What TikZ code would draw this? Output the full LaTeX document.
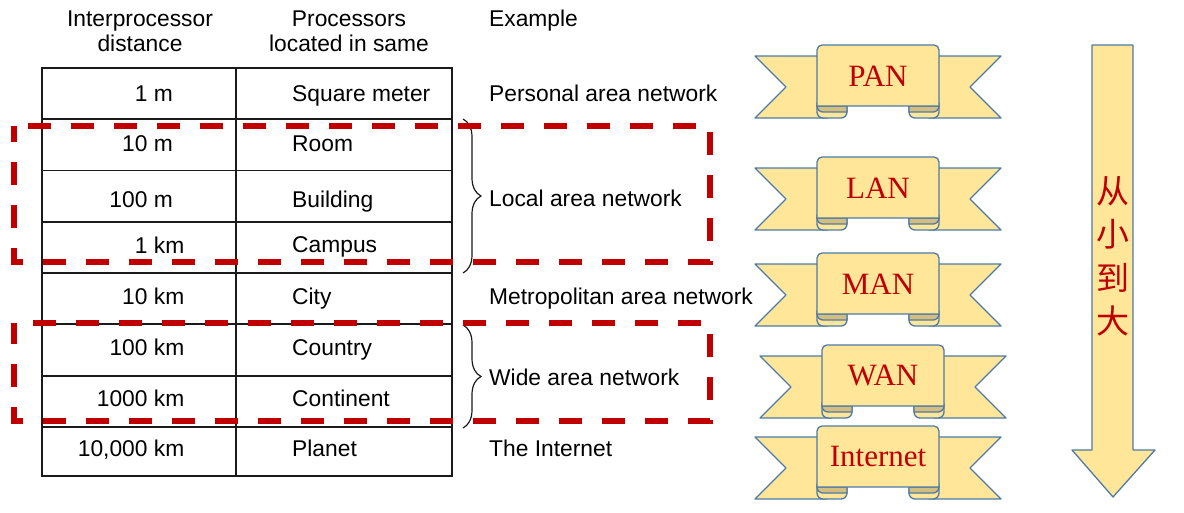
\documentclass[tikz,border=0pt]{standalone}
\usepackage{fontspec}
\setmainfont{Liberation Sans}
\newfontfamily\ribbonserif{Liberation Serif}
\newfontfamily\cjk{Noto Sans CJK SC}
\usetikzlibrary{decorations.pathreplacing}
\definecolor{darkred}{HTML}{C00000}
\definecolor{ribfill}{HTML}{FFE699}
\definecolor{ribfold}{HTML}{D3BE7E}
\definecolor{ribline}{HTML}{4F7AA6}
\definecolor{tabgray}{HTML}{1A1A1A}

\newcommand{\ribbonpic}[4]{%
  \begin{scope}[shift={(#2,#3)}]
    \draw[band] (-62,11) -- (10,11) -- (10,73) -- (-62,73) -- (-31,42) -- cycle;
    \draw[band] (184,11) -- (112,11) -- (112,73) -- (184,73) -- (153,42) -- cycle;
    % left fold
    \draw[band] (0,58) -- (0,67) arc[start angle=180,end angle=90,radius=6]
      -- (24,73) arc[start angle=90,end angle=0,radius=6] -- (30,58) -- cycle;
    \draw[fold] (0,61) -- (30,61) -- (30,67) -- (6,67)
      arc[start angle=90,end angle=180,radius=6] -- cycle;
    % right fold
    \draw[band] (122,58) -- (122,67) arc[start angle=0,end angle=90,radius=6]
      -- (98,73) arc[start angle=90,end angle=180,radius=6] -- (92,58) -- cycle;
    \draw[fold] (122,61) -- (92,61) -- (92,67) -- (116,67)
      arc[start angle=90,end angle=0,radius=6] -- cycle;
    % front panel
    \draw[band] (0,61) -- (0,5) arc[start angle=180,end angle=270,radius=5]
      -- (117,0) arc[start angle=270,end angle=360,radius=5] -- (122,61) -- cycle;
    \node[ribtext] (#1) at (61,31) {#4};
  \end{scope}}

\begin{document}
\begin{tikzpicture}[x=1pt,y=-1pt,
  tabtext/.style={font=\fontsize{22.8}{25}\selectfont, inner sep=0pt, text=black},
  tabline/.style={draw=tabgray, line width=1.4pt},
  redbox/.style={draw=darkred, line width=5.5pt, dash pattern=on 23pt off 20pt},
  band/.style={fill=ribfill, draw=ribline, line width=1.3pt, line join=round},
  fold/.style={fill=ribfold, draw=ribline, line width=1.3pt, line join=round},
  ribtext/.style={font=\ribbonserif\fontsize{31}{31}\selectfont, text=darkred, inner sep=0pt},
  cjktext/.style={font=\cjk\fontsize{33}{33}\selectfont, text=darkred, inner sep=0pt},
  bracestyle/.style={draw=tabgray, line width=1.2pt, decorate, decoration={brace, amplitude=18pt}}
]
\useasboundingbox (0,0) rectangle (1184,513);

% header
\node[tabtext, anchor=base] (h1a) at (140,26.7) {Interprocessor};
\node[tabtext, anchor=base] (h1b) at (140,51.7) {distance};
\node[tabtext, anchor=base] (h2a) at (349,26.7) {Processors};
\node[tabtext, anchor=base] (h2b) at (349,51.7) {located in same};
\node[tabtext, anchor=base west] (h3) at (489,26.7) {Example};

% table grid
\draw[tabline] (42,68) rectangle (452,476);
\draw[tabline] (236,68) -- (236,476);
\foreach \yy in {119,170.7,222,273,324,376,427}
  \draw[tabline] (42,\yy) -- (452,\yy);

% column 1
\node[tabtext, anchor=base east] (d1) at (173,101.7) {1 m};
\node[tabtext, anchor=base east] (d2) at (173,151.7) {10 m};
\node[tabtext, anchor=base east] (d3) at (173,207.3) {100 m};
\node[tabtext, anchor=base east] (d4) at (184.5,253.3) {1 km};
\node[tabtext, anchor=base east] (d5) at (184.5,305) {10 km};
\node[tabtext, anchor=base east] (d6) at (184.5,355) {100 km};
\node[tabtext, anchor=base east] (d7) at (184.5,406.7) {1000 km};
\node[tabtext, anchor=base east] (d8) at (184.5,456.7) {10,000 km};

% column 2
\node[tabtext, anchor=base west] (p1) at (292,101.7) {Square meter};
\node[tabtext, anchor=base west] (p2) at (292,151.7) {Room};
\node[tabtext, anchor=base west] (p3) at (292,207.3) {Building};
\node[tabtext, anchor=base west] (p4) at (292,252.7) {Campus};
\node[tabtext, anchor=base west] (p5) at (292,305) {City};
\node[tabtext, anchor=base west] (p6) at (292,355) {Country};
\node[tabtext, anchor=base west] (p7) at (292,406.7) {Continent};
\node[tabtext, anchor=base west] (p8) at (292,456.7) {Planet};

% examples
\node[tabtext, anchor=base west] (e1) at (489,101.7) {Personal area network};
\node[tabtext, anchor=base west] (e2) at (489,206.7) {Local area network};
\node[tabtext, anchor=base west] (e3) at (489,305) {Metropolitan area network};
\node[tabtext, anchor=base west] (e4) at (489,385) {Wide area network};
\node[tabtext, anchor=base west] (e5) at (489,456.7) {The Internet};

% braces
\coordinate (b1t) at (463,119);
\coordinate (b1b) at (463,273);
\coordinate (b2t) at (463,325);
\coordinate (b2b) at (463,428);
\draw[bracestyle] (b1t) -- (b1b);
\draw[bracestyle] (b2t) -- (b2b);

% dashed boxes
\draw[redbox, dash phase=29pt] (14,126) -- (710,126) -- (710,262) -- (14,262) -- cycle;
\draw[redbox, dash phase=24pt] (14,323) -- (710,323) -- (710,421) -- (14,421) -- cycle;

% ribbons
\ribbonpic{pan}{817}{45}{PAN}
\ribbonpic{lan}{817}{157}{LAN}
\ribbonpic{man}{817}{253}{MAN}
\ribbonpic{wan}{822}{345}{WAN}
\ribbonpic{inet}{817}{426}{Internet}

% arrow
\draw[band] (1092,45) -- (1133,45) -- (1133,450) -- (1155,450) -- (1113,497)
  -- (1072,450) -- (1092,450) -- cycle;
\node[cjktext] (c1) at (1113,191) {从};
\node[cjktext] (c2) at (1113,234) {小};
\node[cjktext] (c3) at (1113,278) {到};
\node[cjktext] (c4) at (1113,321) {大};
\end{tikzpicture}
\end{document}
